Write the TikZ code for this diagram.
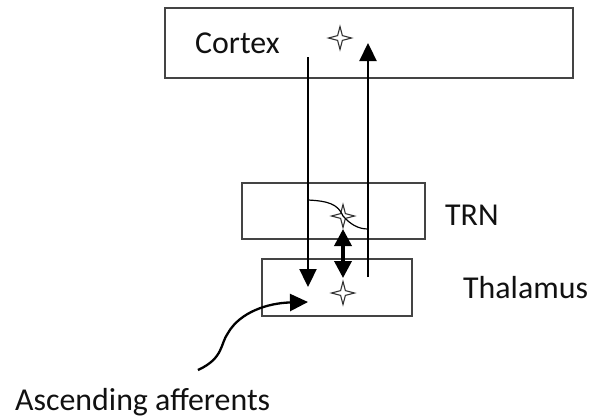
\documentclass[tikz,border=0pt]{standalone}
\usepackage{fontspec}
\setmainfont{Carlito}
\usetikzlibrary{arrows.meta,positioning,shapes.geometric}
\definecolor{BoxLine}{HTML}{444444}
\definecolor{DarkText}{HTML}{111111}
\definecolor{StarLine}{HTML}{333333}
\tikzset{
  region/.style={draw=BoxLine, line width=1.6bp, fill=white, inner sep=0pt},
  lbl/.style={anchor=base west, text=DarkText, inner sep=0pt, font=\fontsize{32}{38}\selectfont},
  cell/.style={star, star points=4, star point ratio=3.4, draw=StarLine, line width=1.1bp, fill=white, minimum size=23bp, inner sep=0pt},
  arr/.style={-{Triangle[length=18bp, width=17bp]}, line width=2.3bp, draw=black},
  dbl/.style={{Triangle[length=17bp, width=17bp]}-{Triangle[length=17bp, width=17bp]}, line width=3.6bp, draw=black},
  thin/.style={line width=1.2bp, draw=black}
}
\begin{document}
\begin{tikzpicture}[x=1bp,y=-1bp]
\useasboundingbox (0,0) rectangle (592,419);
% boxes
\node[region, minimum width=408bp, minimum height=70bp] (cortex) at (369,43) {};
\node[region, minimum width=183bp, minimum height=56bp] (trn) at (333.5,211) {};
\node[region, minimum width=150bp, minimum height=57bp] (thal) at (337,287.5) {};
% labels
\node[lbl] (cortexlbl) at (195,53) {Cortex};
\node[lbl] (trnlbl) at (445,225) {TRN};
\node[lbl] (thallbl) at (463,298) {Thalamus};
\node[lbl] (afflbl) at (15,410) {Ascending afferents};
% cells
\node[cell] (cstar) at (340,38) {};
\node[cell] (tstar) at (343,216) {};
\node[cell] (hstar) at (343,293) {};
% end points
\coordinate (down1) at (308,57);
\coordinate (down2) at (308,287);
\coordinate (up1) at (368,277);
\coordinate (up2) at (368,43);
\coordinate (mid1) at (343,229);
\coordinate (mid2) at (343,278);
\coordinate (br1) at (308,200);
\coordinate (br2) at (368,229);
\coordinate (aff1) at (198,370);
\coordinate (aff2) at (308,302);
% projections
\draw[arr] (down1) -- (down2);
\draw[arr] (up1) -- (up2);
\draw[dbl] (mid1) -- (mid2);
\draw[thin] (br1) .. controls (328,201) and (338,204) .. (tstar.center) .. controls (350,224) and (358,229) .. (br2);
\draw[arr] (aff1) .. controls (224,358) and (220,344) .. (228,333) .. controls (240,312) and (268,303) .. (aff2);
\end{tikzpicture}
\end{document}
